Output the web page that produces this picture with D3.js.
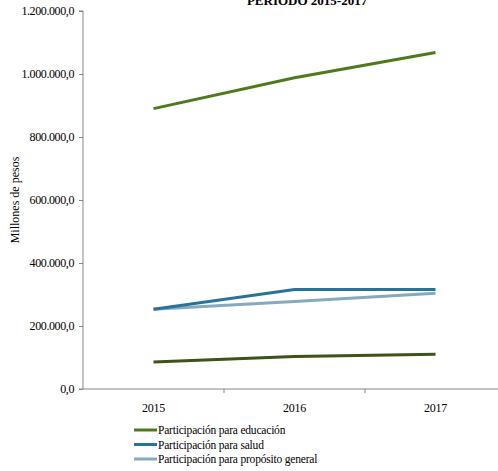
<!DOCTYPE html>
<html><head><meta charset="utf-8">
<script src="https://cdn.jsdelivr.net/npm/d3@7"></script>
<style>body{margin:0;background:#fff}svg{display:block}</style>
</head><body>
<script>
const years = ["2015", "2016", "2017"];
const educacion = [890000, 988000, 1068000];
const salud = [253000, 316000, 316000];
const propositoGeneral = [253000, 278000, 304000];
const otra = [86000, 103000, 110000];
const yTicks = [0, 200000, 400000, 600000, 800000, 1000000, 1200000];
const seriesNames = ["Participación para educación", "Participación para salud", "Participación para propósito general"];
const title = "PERIODO 2015-2017";
const yLabel = "Millones  de pesos";

const FONT = "Liberation Serif";
const W = 498, H = 471;
const svg = d3.select("body").append("svg").attr("width", W).attr("height", H);
const mLeft = 83, mTop = 11, mBottom = 389;
const x = d3.scaleBand().domain(years).range([mLeft, mLeft + 3 * 141]);
const y = d3.scaleLinear().domain([0, 1200000]).range([mBottom, mTop]);
const fmt = v => d3.format(",.1f")(v).replace(/,/g, "X").replace(".", ",").replace(/X/g, ".");

svg.append("text").attr("x", 307).attr("y", 5).attr("text-anchor", "middle")
  .style("font-family", FONT).attr("font-weight", "bold").attr("font-size", 13).text(title);

// y axis
const ya = svg.append("g").attr("transform", `translate(${mLeft},0)`)
  .call(d3.axisLeft(y).tickValues(yTicks).tickSize(4).tickPadding(5).tickFormat(fmt));
ya.attr("font-family", FONT);
ya.select(".domain").attr("stroke", "#868686").attr("d", `M-4,${mTop}H0V${mBottom}H-4`);
ya.selectAll(".tick line").attr("stroke", "#868686");
ya.selectAll(".tick text").attr("font-size", 12).attr("fill", "#000").attr("letter-spacing", -0.4)
  .style("font-family", FONT);

// x axis
const xa = svg.append("g").attr("transform", `translate(0,${mBottom})`);
xa.append("line").attr("x1", mLeft).attr("x2", W).attr("y1", 0).attr("y2", 0).attr("stroke", "#868686");
xa.selectAll("line.t").data(years.slice(1)).join("line").attr("class", "t")
  .attr("x1", d => x(d)).attr("x2", d => x(d)).attr("y1", 0).attr("y2", 4).attr("stroke", "#868686");
xa.selectAll("text").data(years).join("text")
  .attr("x", d => x(d) + x.bandwidth() / 2).attr("y", 23).attr("text-anchor", "middle")
  .style("font-family", FONT).attr("font-size", 12).attr("letter-spacing", -0.3).text(d => d);

svg.append("text").attr("transform", "translate(19,200) rotate(-90)").attr("text-anchor", "middle")
  .style("font-family", FONT).attr("font-size", 12).text(yLabel);

const colors = ["#4e7a1c", "#2a7398", "#84aabb", "#3c5418"];
const data = [educacion, salud, propositoGeneral, otra];
const line = d3.line().x((d, i) => x(years[i]) + x.bandwidth() / 2).y(d => y(d));
[3, 2, 1, 0].forEach(k => {
  svg.append("path").attr("d", line(data[k])).attr("fill", "none")
    .attr("stroke", colors[k]).attr("stroke-width", 3);
});

// legend
seriesNames.forEach((n, i) => {
  const yy = 430 + i * 14.5;
  svg.append("line").attr("x1", 134).attr("x2", 157).attr("y1", yy).attr("y2", yy)
    .attr("stroke", colors[i]).attr("stroke-width", 3);
  svg.append("text").attr("x", 158).attr("y", yy + 4).attr("font-size", 11.5)
    .style("font-family", FONT).attr("letter-spacing", -0.2).text(n);
});
</script>
</body></html>
